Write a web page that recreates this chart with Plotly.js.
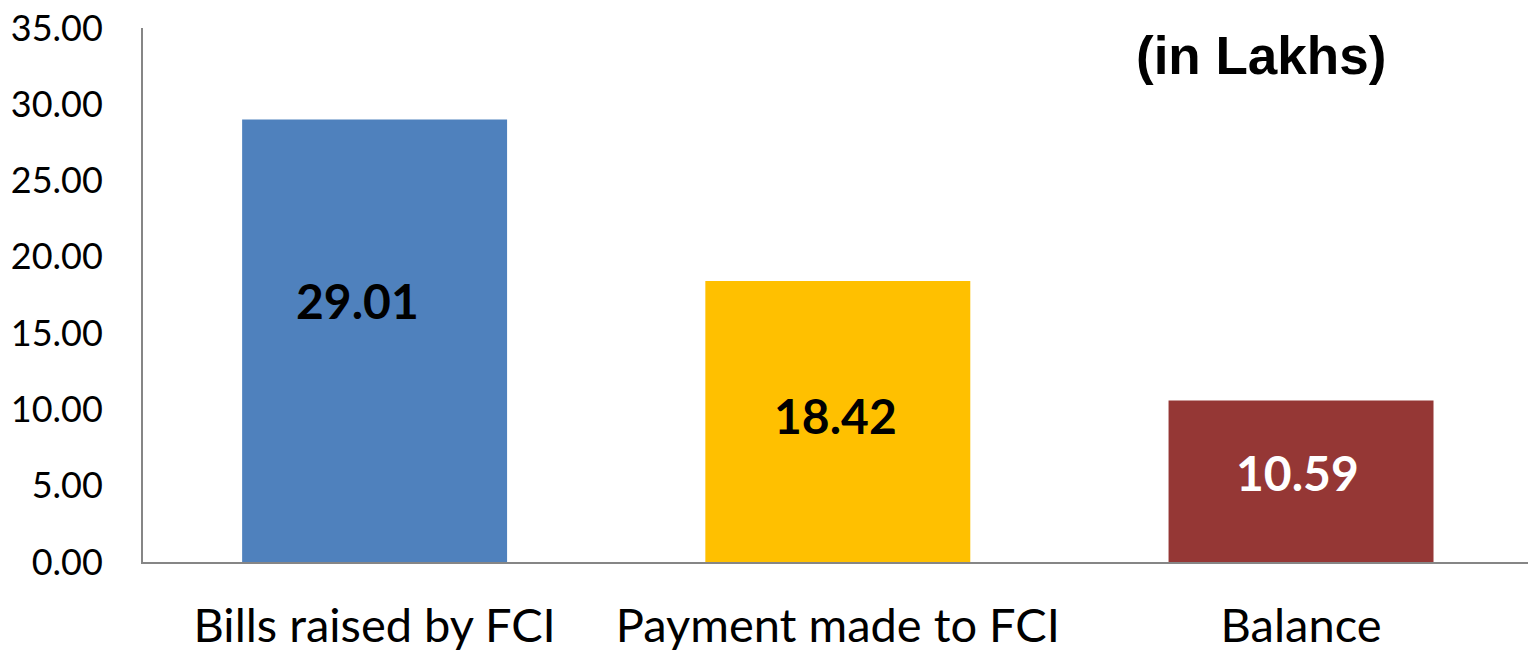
<!DOCTYPE html>
<html>
<head>
<meta charset="utf-8">
<script src="https://cdn.plot.ly/plotly-3.0.1.min.js"></script>
<style>html,body{margin:0;padding:0;background:#fff;}#chart{width:1528px;height:653px;}</style>
</head>
<body>
<div id="chart"></div>
<script>
const categories = ["Bills raised by FCI", "Payment made to FCI", "Balance"];
const values = [29.01, 18.42, 10.59];
const labels = ["29.01", "18.42", "10.59"];
const tickVals = [0, 5, 10, 15, 20, 25, 30, 35];
const tickText = ["0.00", "5.00", "10.00", "15.00", "20.00", "25.00", "30.00", "35.00"];

const barColors = ["#4F81BD", "#FFC000", "#953735"];
const labelColors = ["#000000", "#000000", "#FFFFFF"];
const labelShiftY = [40, 6, 9];
const labelShiftX = [-17, -2, -4];

const annotations = categories.map((c, i) => ({
  x: c, y: values[i] / 2, xref: 'x', yref: 'y',
  text: labels[i], showarrow: false, yshift: labelShiftY[i], xshift: labelShiftX[i],
  font: {family: 'Lato, sans-serif', size: 48, color: labelColors[i], weight: 'bold'}
}));
const pw = 1528 - 143, ph = 653 - 28 - 91;
annotations.push({
  x: (1261 - 143) / pw, y: (653 - 91 - 55) / ph, xref: 'paper', yref: 'paper', text: '<b>(in Lakhs)</b>',
  showarrow: false, xanchor: 'center', yanchor: 'middle',
  font: {family: 'Liberation Sans, Arial, sans-serif', size: 53, color: '#000'}
});

const layout = {
  width: 1528, height: 653,
  margin: {l: 143, r: 0, t: 28, b: 91},
  paper_bgcolor: '#fff', plot_bgcolor: '#fff',
  showlegend: false,
  bargap: 0.428,
  xaxis: {
    type: 'category', range: [-0.5, 2.49],
    showline: true, linecolor: '#868686', linewidth: 2,
    showgrid: false, zeroline: false, ticks: '',
    ticklabelstandoff: 22,
    tickfont: {family: 'Lato, sans-serif', size: 47, color: '#000'}
  },
  yaxis: {
    range: [0, 35], tickvals: tickVals, ticktext: tickText,
    showline: true, linecolor: '#868686', linewidth: 2,
    showgrid: false, zeroline: false, ticks: '',
    ticklabelstandoff: 31,
    tickfont: {family: 'Lato, sans-serif', size: 36, color: '#000'}
  },
  annotations: annotations
};

Plotly.newPlot('chart', [{
  type: 'bar', x: categories, y: values,
  marker: {color: barColors, line: {width: 0}},
  hoverinfo: 'none'
}], layout, {displayModeBar: false, staticPlot: true});
</script>
</body>
</html>
